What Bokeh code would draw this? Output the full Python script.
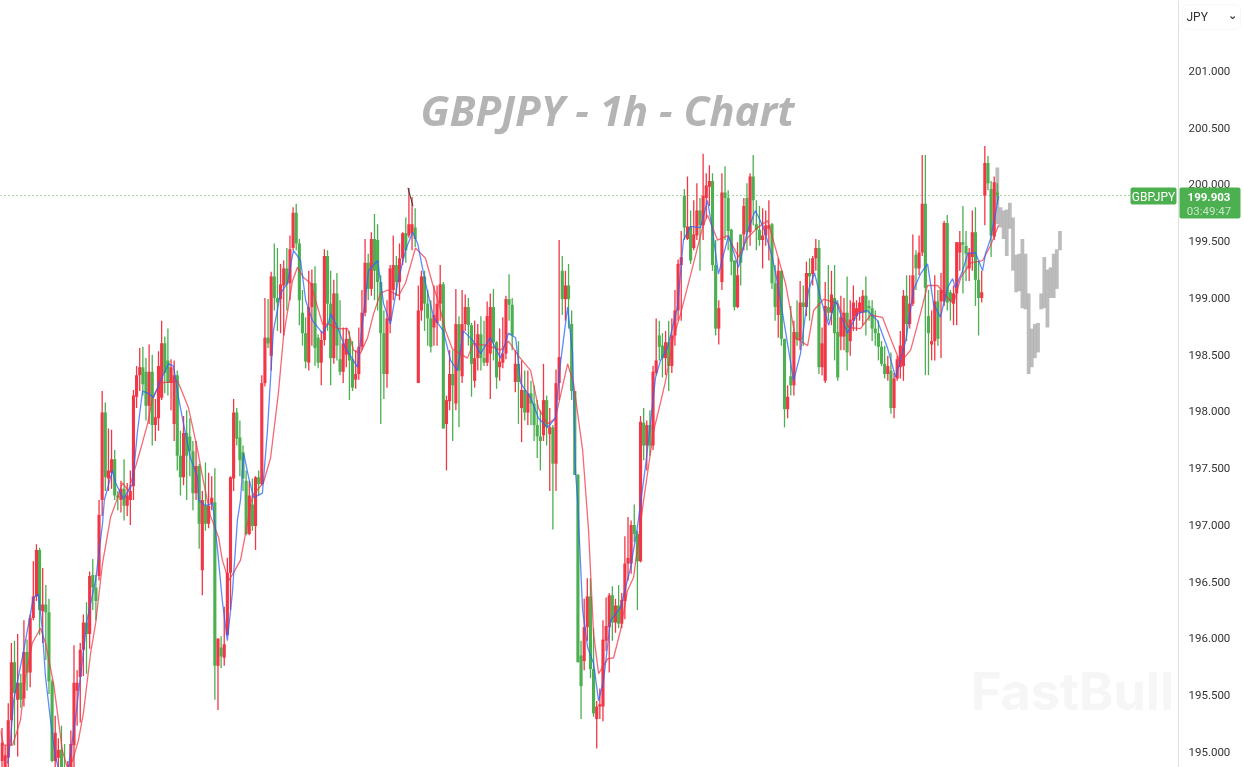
from bokeh.plotting import figure
from bokeh.models import Range1d, Label, BoxAnnotation, FixedTicker, NumeralTickFormatter, ColumnDataSource
from bokeh.embed import file_html
from bokeh.resources import INLINE

# (open, high, low, close), one per hourly bar, split by stretch of the chart
stretch_a = [
(194.92,195.21,194.85,195.08),(194.84,195.06,194.79,194.97),(194.95,195.43,194.84,195.28),(195.28,195.96,195.06,195.79),
(195.79,195.98,195.06,195.52),(195.46,196.04,194.96,195.61),(195.61,195.69,195.39,195.46),(195.47,196.16,195.40,195.88),
(195.88,195.99,195.54,195.70),(195.70,196.21,195.57,196.18),(196.18,196.68,196.16,196.37),(196.37,196.83,196.33,196.78),
(196.78,196.80,196.03,196.25),(196.24,196.62,195.96,196.30),(196.30,196.47,195.81,196.23),(196.23,196.35,195.51,195.62),
(195.62,195.64,194.91,194.92),(194.92,195.32,194.86,195.17),(194.95,195.12,194.86,195.02),(195.02,195.23,194.75,194.79),
(194.84,195.07,194.70,194.75),(194.70,194.92,194.66,194.79),(194.84,195.19,194.77,195.07),(195.06,195.94,194.86,195.61),
(195.54,195.72,195.23,195.61),(195.66,195.96,195.26,195.90),(195.90,196.21,195.67,196.14),(196.14,196.32,195.69,196.04),
(196.04,196.59,195.91,196.55),(196.56,196.70,196.25,196.45),(196.45,196.56,196.16,196.33),(196.55,197.22,196.51,197.09),
(197.22,198.18,197.08,197.99),(197.99,198.08,197.30,197.42),(197.41,197.85,197.30,197.48),(197.46,197.84,197.32,197.58),
(197.58,197.66,197.22,197.26),(197.26,197.30,197.13,197.24),(197.22,197.39,197.11,197.32),(197.32,197.58,197.04,197.17),
(197.17,197.37,197.08,197.26),(197.22,197.48,197.00,197.30),(197.34,198.19,197.22,198.14),(198.13,198.40,198.03,198.32),
(198.32,198.56,198.18,198.39),(198.39,198.57,198.14,198.24),(198.35,198.47,197.92,198.05),(198.05,198.59,197.89,198.35),
(198.35,198.50,197.70,197.88),(197.88,198.11,197.74,197.95),(197.94,198.53,197.83,198.40),(198.12,198.80,198.10,198.60),
(198.60,198.66,198.16,198.34),(198.45,198.73,198.14,198.25),(198.25,198.46,198.01,198.39),(197.89,198.45,197.74,198.32),
(198.32,198.36,197.48,197.61),(197.61,197.83,197.26,197.42),(197.42,197.96,197.35,197.81),(197.81,198.01,197.22,197.61),
(197.78,197.94,197.43,197.65),(197.65,197.74,197.13,197.28),(197.28,197.74,197.22,197.52),(197.52,197.54,196.79,197.01),
]
stretch_b = [
(196.60,197.30,196.38,197.22),(197.17,197.55,196.95,197.01),(197.01,197.46,196.97,197.17),(197.19,197.43,197.13,197.24),
(197.20,197.50,195.46,195.76),(195.76,196.00,195.37,196.00),(195.92,196.02,195.74,195.84),(195.83,196.28,195.76,195.95),
(196.03,196.71,196.03,196.58),(196.58,197.43,196.25,197.42),(197.41,198.11,197.30,197.99),(197.99,198.03,197.70,197.76),
(197.77,197.92,197.43,197.57),(197.64,197.70,197.30,197.41),(197.39,197.48,196.91,196.92),(196.92,197.39,196.91,197.26),
(197.18,197.41,196.95,196.99),(196.99,197.43,196.78,197.42),(197.42,197.48,197.26,197.36),(197.36,198.32,197.35,198.25),
(198.25,199.00,198.22,198.65),(198.65,198.99,198.56,198.60),(198.49,199.23,198.36,199.19),(199.19,199.48,198.89,199.00),
(199.00,199.44,198.71,198.96),(198.99,199.30,198.69,199.12),(199.11,199.33,198.67,199.26),(199.26,199.44,198.89,199.12),
(199.13,199.55,198.98,199.43),(199.44,199.80,199.42,199.75),(199.75,199.83,199.42,199.48),(199.48,199.52,198.76,198.98),
(198.87,199.07,198.58,198.69),(198.69,198.83,198.38,198.44),(198.43,199.24,198.36,198.92),(198.92,199.25,198.58,199.13),
(199.13,199.28,198.40,198.56),(198.65,198.68,198.38,198.43),(198.43,198.71,198.23,198.63),(198.63,199.43,198.58,199.37),
(199.37,199.42,198.71,198.95),(198.95,199.24,198.23,198.47),
]
stretch_c = [
(198.47,199.16,198.42,199.04),(199.04,199.22,198.45,198.58),(198.46,198.98,198.32,198.35),(198.35,198.74,198.25,198.60),
(198.50,198.74,198.39,198.64),(198.64,198.71,198.10,198.45),(198.46,198.62,198.18,198.21),(198.28,198.54,198.20,198.33),
(198.33,198.74,198.28,198.57),(198.57,199.07,198.54,198.87),(198.87,199.52,198.84,199.31),(199.31,199.39,198.98,199.08),
(199.08,199.58,199.02,199.52),(199.52,199.74,198.98,199.24),(199.51,199.65,198.89,199.14),(199.14,199.20,197.89,198.69),
(198.69,198.89,198.11,198.33),(198.33,198.98,198.21,198.82),(198.80,199.29,198.69,199.26),(199.07,199.55,198.98,199.29),
(199.29,199.37,199.02,199.14),(199.14,199.48,198.98,199.35),(199.35,199.58,199.29,199.57),(199.57,199.71,199.31,199.42),
(199.55,199.97,199.53,199.65),(199.57,199.89,199.42,199.65),(199.62,199.79,199.45,199.52),(198.25,199.11,198.25,198.89),
(198.89,199.24,198.80,199.19),(199.19,199.24,198.71,198.95),(198.95,199.07,198.58,198.82),(198.82,198.98,198.52,198.57),
(198.74,199.11,198.58,198.85),(198.78,199.11,198.58,198.95),(198.95,199.29,198.80,199.12),(199.12,199.14,197.85,197.85),
(197.89,198.14,197.48,198.10),(198.09,198.54,198.01,198.33),(198.33,198.54,197.74,198.23),(198.07,199.08,198.01,198.77),
(198.77,198.84,197.86,198.36),(198.31,199.07,198.25,198.77),(198.77,199.03,198.71,198.92),(198.92,199.00,198.58,198.76),
(198.76,198.78,198.13,198.42),(198.27,198.80,198.21,198.47),(198.47,198.77,198.36,198.68),(198.68,198.84,198.36,198.47),
(198.47,198.80,198.40,198.43),(198.43,198.97,198.40,198.84),(198.51,199.04,198.11,198.92),(198.92,199.08,198.45,198.61),
(198.61,198.62,198.20,198.30),(198.39,198.73,198.27,198.44),(198.43,198.83,198.38,198.51),(198.51,199.02,198.46,198.99),
(198.99,199.21,198.80,198.94),(198.94,199.00,198.54,198.67),(198.26,198.54,198.17,198.42),(198.42,198.62,197.89,198.26),
(198.03,198.45,197.73,198.19),(198.19,198.36,197.92,197.99),(197.99,198.36,197.88,198.16),(198.16,198.27,197.88,198.07),
(198.07,198.23,197.74,197.88),(197.88,198.10,197.59,197.78),(197.78,198.01,197.48,197.74),(197.79,198.42,197.74,198.10),
(198.10,198.14,197.70,197.86),(197.80,198.03,197.30,197.86),(197.86,197.88,196.96,197.54),(197.54,198.37,197.30,198.25),
(198.25,199.51,198.10,198.48),(199.24,199.37,198.85,198.99),(198.99,199.24,198.80,199.11),(199.11,199.30,198.73,198.99),
(198.77,198.89,198.10,198.18),
]
stretch_d = [
(198.18,198.18,197.44,197.44),(197.44,197.45,195.79,195.79),(195.85,195.98,195.29,195.58),(195.80,196.35,195.72,196.10),
(196.10,196.53,195.98,196.37),(196.37,196.53,195.65,195.73),(195.73,196.09,195.31,195.34),(195.29,195.45,195.03,195.40),
(195.40,195.56,195.29,195.42),(195.40,196.16,195.27,195.99),(195.98,196.36,195.89,196.11),(196.10,196.40,195.70,196.38),
(196.38,196.46,195.98,196.14),(196.14,196.35,196.05,196.29),(196.29,196.47,196.09,196.13),(196.13,196.40,196.09,196.34),
(196.33,196.90,196.17,196.66),(196.66,197.07,196.51,196.71),(196.66,197.04,196.57,197.00),(197.00,197.18,196.85,196.92),
(196.92,196.95,196.25,196.68),(196.68,197.96,196.67,197.91),(197.90,198.03,197.57,197.70),(197.70,197.92,197.48,197.88),
(197.88,198.01,197.61,197.70),(197.70,198.40,197.66,198.35),(198.34,198.82,198.32,198.45),(198.67,198.80,198.45,198.57),
(198.58,198.69,198.30,198.47),(198.47,198.71,198.32,198.61),(198.61,198.80,198.18,198.40),(198.40,198.82,198.34,198.67),
(198.67,199.07,198.58,198.89),(198.89,199.34,198.80,199.30),(199.29,199.59,198.80,199.36),(199.90,199.96,199.51,199.62),
(199.52,200.07,199.51,199.63),(199.63,199.77,199.30,199.33),(199.44,199.86,199.42,199.56),(199.55,200.01,199.51,199.77),
(199.77,199.88,199.24,199.64),(199.64,200.27,199.51,199.90),(199.88,200.10,199.70,199.99),(199.98,200.17,199.81,200.03),
(200.03,200.10,199.24,199.29),(199.29,199.51,198.67,198.73),(198.73,198.98,198.59,198.91),(199.14,200.10,199.07,199.93),
(199.93,200.16,199.51,199.88),(199.88,199.95,199.42,199.59),(199.60,199.61,199.20,199.32),(199.33,199.33,198.89,198.92),
(198.92,199.49,198.91,199.20),(199.56,199.56,199.11,199.31),(199.56,199.88,199.42,199.81),(199.88,200.01,199.42,199.58),
(199.58,200.10,199.46,200.07),(200.07,200.26,199.64,199.86),(199.65,199.86,199.42,199.60),(199.60,199.81,199.46,199.51),
(199.51,199.79,199.26,199.55),(199.55,199.77,199.46,199.64),(199.61,199.86,199.33,199.64),(199.65,199.66,199.08,199.13),
(199.13,199.29,198.80,198.92),(198.85,199.35,198.65,199.24),(199.24,199.24,198.58,198.64),(198.64,198.64,197.86,198.02),
]
stretch_e = [
(198.02,198.23,197.94,198.13),(198.31,198.93,198.14,198.23),(198.23,198.80,198.14,198.70),(198.70,198.98,198.58,198.63),
(198.63,199.15,198.54,198.96),(198.96,199.11,198.58,198.92),(198.92,199.32,198.84,199.22),(199.22,199.35,198.80,199.19),
(199.21,199.37,199.11,199.35),(199.35,199.52,199.24,199.44),(199.44,199.51,198.33,198.39),(198.39,198.74,198.32,198.60),
(198.27,199.14,198.25,198.93),(198.92,199.29,198.80,198.87),(198.87,199.24,198.76,199.03),(199.00,199.29,198.45,198.69),
(198.70,198.98,198.27,198.30),(198.66,199.02,198.54,198.83),(198.66,199.00,198.54,198.87),(198.87,199.19,198.36,198.52),
(198.62,198.98,198.49,198.81),(198.80,199.11,198.71,198.96),(198.84,198.98,198.71,198.91),(198.87,199.01,198.80,198.96),
(198.87,199.07,198.76,199.02),(199.02,199.19,198.67,198.87),(198.93,198.98,198.80,198.91),(198.91,198.98,198.62,198.73),
(198.73,198.89,198.58,198.69),(198.69,198.80,198.45,198.57),(198.57,198.62,198.40,198.42),(198.42,198.58,198.29,198.33),
(198.33,198.49,198.27,198.40),(198.36,198.52,197.98,198.03),(198.03,198.34,197.94,198.29),(198.29,198.49,198.27,198.46),
(198.39,198.71,198.29,198.58),(198.40,199.07,198.27,199.02),(199.02,199.20,198.62,198.77),(198.77,199.20,198.73,198.95),
(198.95,199.56,198.93,199.20),(199.38,199.42,199.07,199.26),(199.26,199.55,199.20,199.40),(199.40,200.26,199.37,199.83),
(199.83,200.26,198.32,199.09),(198.84,199.07,198.32,198.69),(198.59,198.89,198.45,198.62),(198.62,199.20,198.45,198.97),
(198.97,199.07,198.58,198.64),(198.97,199.22,198.47,199.07),(198.97,199.68,198.93,199.66),(199.66,199.73,198.89,198.96),
(199.05,199.07,198.80,198.97),(198.95,199.11,198.76,199.04),(199.04,199.49,198.76,199.49),(199.40,199.59,199.24,199.49),
(199.49,199.81,199.04,199.47),(199.46,199.59,199.15,199.39),(199.26,199.44,199.15,199.40),(199.36,199.77,199.24,199.58),
(199.58,199.80,198.93,199.16),(199.16,199.33,198.67,199.00),(199.00,199.24,198.96,199.05),(199.90,200.34,199.64,200.19),
(200.19,200.25,199.95,200.01),(199.96,200.03,199.36,199.55),(199.54,200.07,199.51,200.02),(199.93,200.01,199.83,199.903),
]

# future projection bars: high and low
proj_high = [200.15,199.80,199.77,199.78,199.84,199.71,199.38,199.39,199.52,199.39,199.04,198.73,198.77,198.78,199.04,199.36,199.25,199.27,199.39,199.43,199.59]
proj_low = [199.65,199.62,199.52,199.37,199.61,199.24,199.05,199.06,198.91,198.90,198.33,198.39,198.47,198.52,198.90,198.91,198.74,199.00,199.00,199.08,199.42]

fast_ma_hour = [1.8,2.7,3.7,6.9,8.5,10,11.7,12.9,13.9,15.5,17.1,18,19.6,21.2,23.5,25.7,27.3,29.9,32.1,32.7,35.3,36.3,38.8,41.7,43.3,44.9,46.8,48.4,50.6,53.2,54.8,56.4,58,60.2,62.5,62.8,65,67.3,68.9,70.4,72,73.6,75.2,76.2,77.2,78.8,80.4,83.2,84.8,86.7,89,91.2,93.1,95.4,97,99.2,102.4,104.3,105,107.2,109.7,113.6,115.5,117.1,120,121.9,124.1,126.4,128.9,131.2,132.8,135.3,137.9,141,143.3,145.5,147.4,150.6,152.9,156,159.3,161.8,164.1,165.7,168.9,171.4,174.3,176.8,178.4,180.7,182.3,183.2,183.9,185.5,187.1,189,190.6,192.2,194.4,197.6,200.8,203,205.6,208.8,210.4,212.6,215.8,217.7,220,223.2,225.4,227,228.9,232.1,235.3,238.2,240.7,243.3,246.1,247.8,250.3,252.9,255.1,257.7,259.6,261.5,264.1,266.3,270.1,273.3,276.5,279.7,282.9,285.5,288.7,291.2,293.4,295.7,297.6,299.8,302.1,303.7,304.6,306.9,308.5,311,313.3,314.2,315.8,317.4,318.4]
fast_ma = [194.90,195.10,195.45,195.89,196.13,196.36,196.39,196.07,195.66,195.28,194.95,194.86,194.70,194.86,195.30,195.81,196.18,196.51,197.01,197.22,197.48,197.37,197.23,197.36,197.83,198.18,198.16,198.12,198.27,198.42,198.40,198.12,197.89,197.59,197.42,197.22,197.17,197.19,196.77,196.33,195.98,196.40,197.04,197.22,197.63,197.42,197.24,197.28,197.83,198.71,199.04,199.13,199.42,199.33,198.98,198.80,198.69,198.78,198.86,198.74,198.56,198.39,198.86,199.24,199.33,198.95,198.77,199.13,199.42,199.58,199.48,199.13,198.83,198.71,198.45,198.36,198.71,198.62,198.51,198.65,198.47,198.69,198.65,198.25,198.12,197.94,197.86,197.94,198.42,198.92,198.51,197.48,197.22,196.25,195.92,195.78,195.45,195.63,196.16,196.27,196.62,196.98,197.52,198.30,198.45,198.56,198.92,199.51,199.63,199.62,199.86,199.59,199.21,199.55,199.27,199.59,199.77,199.62,199.36,199.13,198.71,198.27,198.51,199.07,199.22,199.00,198.76,198.98,198.69,198.86,198.89,198.80,198.56,198.30,198.62,199.07,199.21,199.30,198.95,198.83,199.09,199.17,199.09,199.24,199.39,199.40,199.24,199.39,199.52,199.74,199.90]

slow_ma_hour = [-0.5,0.5,3.4,5.9,7.5,9.7,12.3,13.9,16.5,19.3,20.9,22.5,24.4,26,28.3,29.9,32.1,34.7,36.3,38.5,40.4,42,44.2,46.5,48.1,50.6,56.1,59.6,62.5,64.1,66.6,69.2,70.4,72.4,74,76.2,78.4,80,83.5,85.8,88.3,89.9,92.8,94.4,96.3,98.6,100.8,102.4,104.3,107.5,110.4,112.3,114.5,116.8,118.7,120.9,123.2,126.7,128.9,132.1,135.3,137.5,139.5,141.7,143.9,148.7,150.6,155.1,159.3,161.8,165,168.9,171.4,174.3,176.8,180.7,182.6,185.5,187.4,189,190.6,193.5,195.4,197.6,199.8,201.8,205,208.2,210.4,212,214.5,216.8,220.9,223.8,225.4,228.6,231.8,235.3,238.2,241.4,244.6,247.1,250.3,253.5,257.4,259.3,262.5,267,270.5,274.3,277.5,281.3,284.5,287,290.3,293.4,295.7,298.9,302.1,304,306.3,309.4,313.3,315.8,318.4]
slow_ma = [195.19,195.06,195.06,195.28,195.66,195.96,196.09,195.96,195.60,195.01,194.86,194.92,195.10,195.34,195.87,196.13,196.66,197.07,197.19,197.37,197.30,197.45,197.66,197.89,198.12,198.25,198.27,198.03,197.66,197.42,197.08,196.89,196.69,196.51,196.58,196.69,197.01,197.26,197.37,197.59,198.16,198.65,199.15,199.27,199.18,199.13,198.92,198.77,198.77,198.73,198.73,198.54,198.51,198.65,198.86,199.04,199.07,199.02,199.13,199.44,199.35,199.13,198.96,198.71,198.55,198.47,198.60,198.58,198.54,198.62,198.49,198.36,198.03,197.89,197.94,198.42,198.25,197.66,196.95,196.04,195.69,195.82,195.83,196.07,196.42,196.54,197.22,197.83,198.08,198.27,198.65,198.86,199.30,199.62,199.73,199.51,199.55,199.36,199.53,199.62,199.68,199.44,199.13,198.65,198.58,198.89,198.99,198.95,198.74,198.73,198.85,198.83,198.60,198.43,198.54,198.86,199.11,199.11,199.00,198.95,199.18,199.31,199.33,199.46,199.64]

y_ticks = [195.0,195.5,196.0,196.5,197.0,197.5,198.0,198.5,199.0,199.5,200.0,200.5,201.0]
last_price = 199.903
ticker = "GBPJPY"

UP, DOWN = "#f23645", "#4caf50"
bars = stretch_a + stretch_b + stretch_c + stretch_d + stretch_e
opens, highs, lows, closes = map(list, zip(*bars))
hours = list(range(len(bars)))
colors = [UP if c > o else DOWN for o, c in zip(opens, closes)]
src = ColumnDataSource(dict(h=hours, o=opens, hi=highs, lo=lows, c=closes, col=colors))

W, H = 1244, 767
X_START, X_END, AXIS_HOUR, TAG_HOUR = -0.48, 396.96, 375.88, 360.8
p = figure(width=W, height=H, output_backend="svg", toolbar_location=None,
           x_axis_location=None, y_axis_location="right",
           x_range=Range1d(X_START, X_END), y_range=Range1d(194.863, 201.621),
           min_border=0, outline_line_color=None,
           background_fill_color="#ffffff", border_fill_color="#ffffff")
p.styles = {"position": "fixed", "left": "0px", "top": "0px"}
p.grid.visible = False

ax = p.yaxis[0]
ax.fixed_location = AXIS_HOUR
ax.ticker = FixedTicker(ticks=y_ticks)
ax.formatter = NumeralTickFormatter(format="0.000")
ax.axis_line_color = "#e0e0e0"
ax.major_tick_line_color = None
ax.minor_tick_line_color = None
ax.major_label_text_font = "Roboto"
ax.major_label_text_font_size = "11.5px"
ax.major_label_text_color = "#333333"
ax.major_label_standoff = 4

def scr(y):
    return H - y

p.add_layout(Label(x=607, y=scr(109), x_units="screen", y_units="screen", text="GBPJPY - 1h - Chart",
                   text_font="Open Sans", text_font_style="bold italic", text_font_size="42px",
                   text_color="#b4b4b4", text_align="center", text_baseline="middle"))
p.add_layout(Label(x=1072, y=scr(691), x_units="screen", y_units="screen", text="FastBull",
                   text_font="Inter", text_font_style="bold", text_font_size="52px",
                   text_color="#f6f6f6", text_align="center", text_baseline="middle"))

p.line([X_START, TAG_HOUR], [last_price, last_price], line_color=DOWN, line_dash="1 3", line_width=1)

p.vbar(x=[318 + k for k in range(len(proj_high))], width=1.2, top=proj_high, bottom=proj_low,
       fill_color="#b0b0b0", line_color=None, fill_alpha=0.85)
p.segment("h", "hi", "h", "lo", source=src, line_color="col", line_width=1.3)
p.vbar(x="h", width=1.0, top="o", bottom="c", source=src, fill_color="col", line_color=None)
p.line(slow_ma_hour, slow_ma, line_color=UP, line_width=1.3, line_alpha=0.75)
p.line(fast_ma_hour, fast_ma, line_color="#2962ff", line_width=1.3, line_alpha=0.75)
p.line([129.7, 131.3], [199.97, 199.81], line_color="#333333", line_width=1)

# currency selector
p.add_layout(BoxAnnotation(left=1182, right=1240, top=scr(4), bottom=scr(29),
                           left_units="screen", right_units="screen", top_units="screen", bottom_units="screen",
                           fill_color="#ffffff", fill_alpha=1, line_color="#e8e8e8", line_width=1, border_radius=5))
p.add_layout(Label(x=1186, y=scr(16), x_units="screen", y_units="screen", text="JPY",
                   text_font="Roboto", text_font_size="12px", text_color="#333333", text_baseline="middle"))
p.add_layout(Label(x=1232, y=scr(15), x_units="screen", y_units="screen", text="⌄",
                   text_font="DejaVu Sans", text_font_style="bold", text_font_size="11px", text_color="#333333",
                   text_align="center", text_baseline="middle"))

# last price tags
p.add_layout(BoxAnnotation(left=1130, right=1176, top=scr(187), bottom=scr(204),
                           left_units="screen", right_units="screen", top_units="screen", bottom_units="screen",
                           fill_color=DOWN, fill_alpha=1, line_color=None, border_radius=2))
p.add_layout(BoxAnnotation(left=1179, right=1240, top=scr(187), bottom=scr(218),
                           left_units="screen", right_units="screen", top_units="screen", bottom_units="screen",
                           fill_color=DOWN, fill_alpha=1, line_color=None, border_radius=2))
p.add_layout(Label(x=1153, y=scr(196), x_units="screen", y_units="screen", text=ticker,
                   text_font="Roboto", text_font_size="12px", text_color="#ffffff",
                   text_align="center", text_baseline="middle"))
p.add_layout(Label(x=1208.5, y=scr(196), x_units="screen", y_units="screen", text="199.903",
                   text_font="Roboto", text_font_style="bold", text_font_size="11.5px", text_color="#ffffff",
                   text_align="center", text_baseline="middle"))
p.add_layout(Label(x=1208.5, y=scr(210), x_units="screen", y_units="screen", text="03:49:47",
                   text_font="Roboto", text_font_size="11.5px", text_color="#c8e6c9",
                   text_align="center", text_baseline="middle"))

open("out.html", "w").write(file_html(p, INLINE))
